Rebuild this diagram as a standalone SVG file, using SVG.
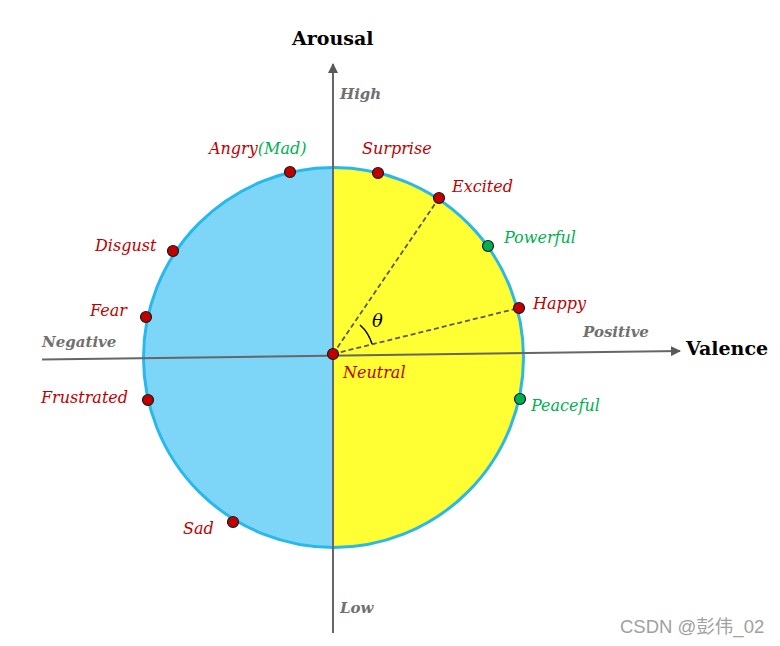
<svg xmlns="http://www.w3.org/2000/svg" width="780" height="646" viewBox="0 0 780 646">
<style>
.lbl{font-family:"DejaVu Serif","Liberation Serif",serif;font-style:italic;font-size:16px}
.red{fill:#C00000}
.grn{fill:#00B050}
.ax{font-family:"DejaVu Serif","Liberation Serif",serif;font-weight:bold;font-size:19px;fill:#000}
.axg{font-family:"DejaVu Serif","Liberation Serif",serif;font-weight:bold;font-style:italic;font-size:15px;fill:#707070}
.dot{stroke:#1a1a1a;stroke-width:1.2}
.dr{fill:#C00000}
.dg{fill:#00B050}
</style>
<defs>
<marker id="arr" markerWidth="10" markerHeight="10" refX="9" refY="5" orient="auto" markerUnits="userSpaceOnUse">
<path d="M0,0 L10,5 L0,10 z" fill="#595959"/>
</marker>
</defs>
<rect width="780" height="646" fill="#fff"/>
<g id="circle">
<circle cx="333.5" cy="357.5" r="190" fill="#FFFF33"/>
<path d="M333.5,167.5 A190,190 0 0 0 333.5,547.5 Z" fill="#7DD6F8"/>
<circle cx="333.5" cy="357.5" r="190" fill="none" stroke="#29B8EA" stroke-width="3"/>
</g>
<g id="connectors">
<line x1="333" y1="633" x2="333" y2="64" stroke="#666" stroke-width="2" marker-end="url(#arr)"/>
<line x1="42" y1="359.5" x2="680" y2="351" stroke="#666" stroke-width="2" marker-end="url(#arr)"/>
<line x1="333" y1="354" x2="439" y2="198" stroke="#595959" stroke-width="1.8" stroke-dasharray="5,3"/>
<line x1="333" y1="354" x2="519" y2="308" stroke="#595959" stroke-width="1.8" stroke-dasharray="5,3"/>
<path d="M360,325 A40,40 0 0 1 372,344" fill="none" stroke="#000" stroke-width="1.5"/>
</g>
<g id="axis-labels">
<text class="ax" x="292" y="45">Arousal</text>
<text class="ax" x="686" y="355">Valence</text>
<text class="axg" x="340" y="99">High</text>
<text class="axg" x="340" y="613">Low</text>
<text class="axg" x="42" y="347">Negative</text>
<text class="axg" x="583" y="337">Positive</text>
<text x="372" y="327" font-family="DejaVu Serif,serif" font-style="italic" font-size="18">θ</text>
</g>
<g id="n-angry"><circle class="dot dr" cx="290" cy="172" r="5.5"/><text class="lbl" x="209" y="154"><tspan class="red">Angry</tspan><tspan class="grn">(Mad)</tspan></text></g>
<g id="n-surprise"><circle class="dot dr" cx="378" cy="173" r="5.5"/><text class="lbl red" x="362" y="154">Surprise</text></g>
<g id="n-excited"><circle class="dot dr" cx="439" cy="198" r="5.5"/><text class="lbl red" x="452" y="192">Excited</text></g>
<g id="n-powerful"><circle class="dot dg" cx="488" cy="246" r="5.5"/><text class="lbl grn" x="504" y="243">Powerful</text></g>
<g id="n-happy"><circle class="dot dr" cx="519" cy="308" r="5.5"/><text class="lbl red" x="533" y="309">Happy</text></g>
<g id="n-peaceful"><circle class="dot dg" cx="520" cy="399" r="5.5"/><text class="lbl grn" x="531" y="411">Peaceful</text></g>
<g id="n-disgust"><circle class="dot dr" cx="173" cy="251" r="5.5"/><text class="lbl red" x="95" y="251">Disgust</text></g>
<g id="n-fear"><circle class="dot dr" cx="146" cy="317" r="5.5"/><text class="lbl red" x="90" y="316">Fear</text></g>
<g id="n-frustrated"><circle class="dot dr" cx="148" cy="400" r="5.5"/><text class="lbl red" x="41" y="403">Frustrated</text></g>
<g id="n-sad"><circle class="dot dr" cx="233" cy="522" r="5.5"/><text class="lbl red" x="183" y="534">Sad</text></g>
<g id="n-neutral"><circle class="dot dr" cx="333" cy="354" r="5.5"/><text class="lbl red" x="343" y="378">Neutral</text></g>
<text x="620" y="633" font-family="'Liberation Sans','Noto Sans CJK SC',sans-serif" font-size="18.5" fill="#A0A0A0">CSDN @彭伟_02</text>
</svg>
